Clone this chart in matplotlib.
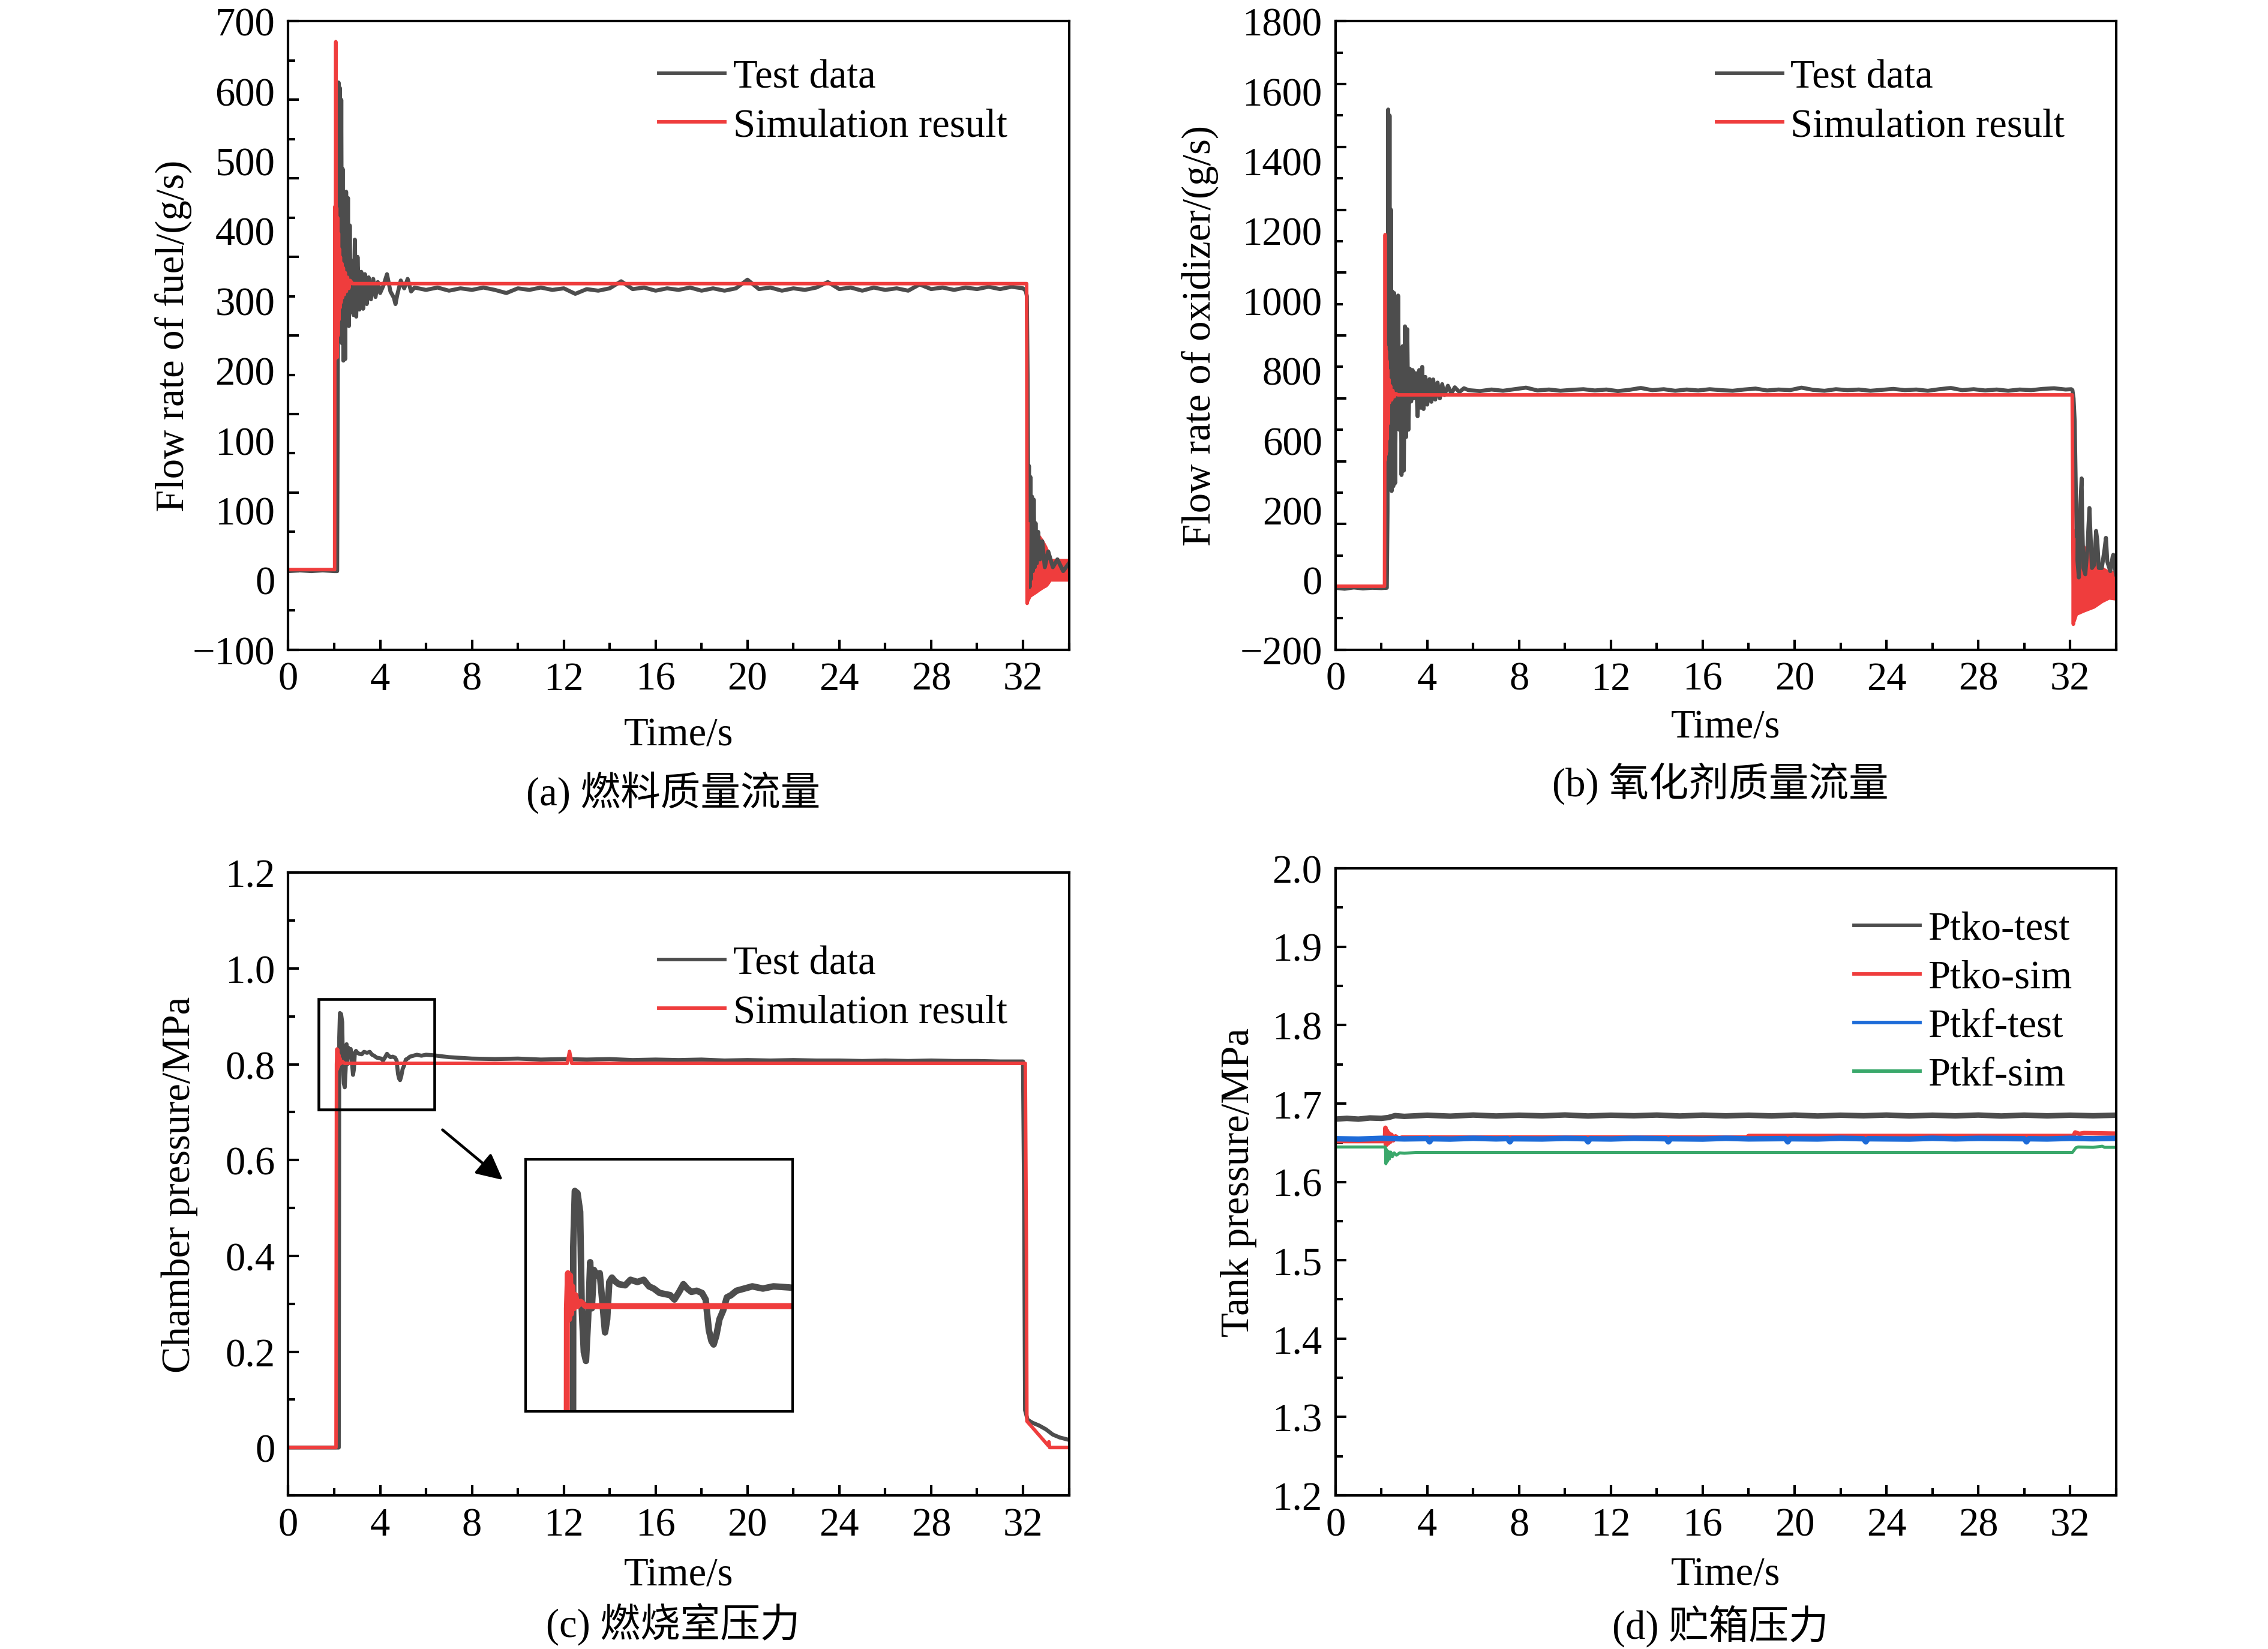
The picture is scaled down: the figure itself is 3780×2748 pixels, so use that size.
import numpy as np
import matplotlib
matplotlib.use('Agg')
import matplotlib.pyplot as plt
from matplotlib.ticker import MultipleLocator
from matplotlib.patches import Rectangle

plt.rcParams['font.family'] = ['Liberation Serif', 'Noto Sans CJK SC']
plt.rcParams['font.size'] = 16
plt.rcParams['axes.unicode_minus'] = True

GRAY = '#4d4d4d'
RED = '#ef3d3d'
BLUE = '#1d6bd8'
GREEN = '#3aa86b'

# ---------------- (a) fuel mass flow, (t [s], g/s)
fuel_test = [(0.0, 0), (0.5, 1), (1.0, 0), (1.5, 1), (2.0, 0), (2.13, 0),
             (2.16, 290), (2.19, 622), (2.22, 300), (2.25, 615), (2.28, 320), (2.31, 600),
             (2.34, 290), (2.37, 512), (2.40, 268), (2.44, 420), (2.48, 270), (2.52, 483),
             (2.56, 315), (2.60, 475), (2.64, 312), (2.68, 440), (2.72, 330), (2.78, 395),
             (2.84, 326), (2.90, 422), (2.96, 324), (3.02, 400), (3.10, 333), (3.18, 381),
             (3.26, 334), (3.34, 378), (3.42, 340), (3.50, 374), (3.60, 346), (3.70, 372),
             (3.80, 349), (3.90, 368), (4.00, 354), (4.15, 364), (4.30, 378), (4.45, 356),
             (4.60, 348), (4.67, 340), (4.75, 352), (4.90, 370), (5.05, 360), (5.20, 372),
             (5.35, 356), (5.5, 361), (6.0, 358), (6.5, 361), (7.0, 357), (7.5, 360),
             (8.0, 358), (8.5, 361), (9.0, 358), (9.5, 354), (10.0, 360), (10.5, 358),
             (11.0, 361), (11.5, 358), (12.0, 360), (12.5, 353), (13.0, 359), (13.5, 357),
             (14.0, 360), (14.5, 369), (15.0, 359), (15.5, 361), (16.0, 357), (16.5, 360),
             (17.0, 358), (17.5, 361), (18.0, 357), (18.5, 360), (19.0, 357), (19.5, 360),
             (20.0, 371), (20.5, 359), (21.0, 361), (21.5, 357), (22.0, 360), (22.5, 358),
             (23.0, 361), (23.5, 368), (24.0, 359), (24.5, 361), (25.0, 357), (25.5, 361),
             (26.0, 358), (26.5, 360), (27.0, 357), (27.5, 365), (28.0, 359), (28.5, 361),
             (29.0, 358), (29.5, 361), (30.0, 359), (30.5, 362), (31.0, 359), (31.5, 362),
             (32.0, 360), (32.12, 357), (32.17, 350), (32.20, 250), (32.23, 60), (32.26, 134),
             (32.29, -20), (32.32, 120), (32.35, -10), (32.39, 95), (32.43, 0), (32.47, 91),
             (32.51, 5), (32.55, 61), (32.60, 10), (32.66, 50), (32.74, 15), (32.84, 38),
             (32.95, 5), (33.1, 25), (33.3, 5), (33.5, 15), (33.75, 0), (34.0, 10)]
fuel_sim = [(0.0, 2), (2.02, 2), (2.03, 464), (2.05, 270), (2.07, 674), (2.09, 300),
            (2.11, 462), (2.13, 272), (2.15, 450), (2.17, 300), (2.19, 430), (2.21, 320),
            (2.23, 410), (2.25, 335), (2.27, 400), (2.30, 342), (2.33, 392), (2.36, 348),
            (2.40, 386), (2.44, 352), (2.48, 380), (2.53, 356), (2.58, 374), (2.64, 360),
            (2.70, 370), (2.80, 366), (32.16, 366), (32.18, -41), (32.21, 60)]
# envelope of the fast ringing after shutdown
fuel_ring_t = [32.18, 32.22, 32.35, 32.61, 32.70, 32.91, 33.04, 33.13, 33.22, 33.26, 33.6, 34.0]
fuel_ring_hi = [65, 65, 60, 52, 48, 39, 32, 26, 20, 16, 16, 16]
fuel_ring_lo = [-41, -41, -33, -28, -26, -22, -20, -17, -13, -13, -13, -13]
fuel_ytick_labels = ['\u2212100', '0', '100', '100', '200', '300', '400', '500', '600', '700']

# ---------------- (b) oxidizer mass flow
ox_test = [(0.0, -3), (0.4, -6), (0.8, -2), (1.2, -5), (1.6, -3), (2.0, -4), (2.24, -3),
           (2.27, 240), (2.30, 1519), (2.33, 420), (2.36, 1500), (2.39, 310), (2.42, 1200),
           (2.45, 305), (2.48, 940), (2.52, 320), (2.56, 935), (2.60, 330), (2.64, 700),
           (2.69, 520), (2.73, 927), (2.78, 500), (2.84, 760), (2.88, 356), (2.93, 766),
           (2.98, 370), (3.03, 829), (3.08, 477), (3.13, 820), (3.18, 500), (3.24, 694),
           (3.30, 590), (3.36, 690), (3.42, 600), (3.50, 680), (3.58, 543), (3.65, 690),
           (3.72, 570), (3.78, 700), (3.84, 566), (3.92, 668), (4.00, 580), (4.10, 661),
           (4.18, 589), (4.26, 660), (4.35, 596), (4.45, 650), (4.55, 600), (4.65, 645),
           (4.75, 610), (4.90, 640), (5.05, 615), (5.20, 635), (5.40, 620), (5.60, 632),
           (5.8, 626), (6.3, 623), (6.8, 628), (7.3, 624), (7.8, 629), (8.3, 634), (8.8, 625),
           (9.3, 628), (9.8, 624), (10.3, 627), (10.8, 629), (11.3, 625), (11.8, 628),
           (12.3, 623), (12.8, 627), (13.3, 633), (13.8, 626), (14.3, 629), (14.8, 624),
           (15.3, 628), (15.8, 625), (16.3, 629), (16.8, 626), (17.3, 624), (17.8, 628),
           (18.3, 631), (18.8, 625), (19.3, 628), (19.8, 626), (20.3, 634), (20.8, 627),
           (21.3, 624), (21.8, 629), (22.3, 626), (22.8, 628), (23.3, 624), (23.8, 627),
           (24.3, 630), (24.8, 626), (25.3, 628), (25.8, 624), (26.3, 629), (26.8, 633),
           (27.3, 626), (27.8, 629), (28.3, 625), (28.8, 628), (29.3, 624), (29.8, 628),
           (30.3, 626), (30.8, 630), (31.3, 632), (31.8, 628), (32.05, 629), (32.1, 626),
           (32.15, 600), (32.2, 526), (32.25, 300), (32.3, 100), (32.38, 30), (32.44, 250),
           (32.5, 345), (32.53, 200), (32.58, 60), (32.66, 40), (32.75, 120), (32.84, 251),
           (32.88, 180), (32.95, 60), (33.05, 70), (33.13, 178), (33.18, 150), (33.25, 60),
           (33.38, 60), (33.5, 120), (33.56, 156), (33.62, 80), (33.75, 50), (33.85, 95),
           (33.88, 102), (33.95, 60), (34.0, 40)]
ox_sim = [(0.0, 2), (2.14, 2), (2.15, 404), (2.165, 1121), (2.18, 404), (2.19, 766),
          (2.20, 420), (2.215, 750), (2.23, 430), (2.245, 720), (2.26, 470), (2.28, 690),
          (2.30, 520), (2.33, 660), (2.36, 587), (2.40, 640), (2.45, 595), (2.50, 625),
          (2.56, 605), (2.63, 615), (2.72, 611), (32.09, 611), (32.14, -119), (32.16, 150)]
ox_ring_t = [32.14, 32.23, 32.32, 32.6, 33.06, 33.42, 33.7, 34.0]
ox_ring_hi = [188, 180, 160, 134, 96, 64, 52, 52]
ox_ring_lo = [-119, -110, -90, -81, -68, -50, -40, -43]
ox_ytick_labels = ['\u2212200', '0', '200', '600', '800', '1000', '1200', '1400', '1600', '1800']

# ---------------- (c) chamber pressure, MPa
pc_test = [(0.0, 0), (2.20, 0), (2.22, 0.856), (2.25, 0.907), (2.30, 0.905), (2.35, 0.888),
           (2.38, 0.80), (2.42, 0.76), (2.46, 0.752), (2.50, 0.79), (2.54, 0.842), (2.57, 0.80),
           (2.61, 0.835), (2.66, 0.830), (2.72, 0.832), (2.78, 0.800), (2.82, 0.778), (2.86, 0.79),
           (2.90, 0.824), (2.95, 0.828), (3.0, 0.825), (3.08, 0.822), (3.2, 0.821), (3.3, 0.826),
           (3.43, 0.824), (3.55, 0.826), (3.65, 0.820), (3.74, 0.818), (3.85, 0.814), (3.95, 0.813),
           (4.05, 0.812), (4.13, 0.808), (4.22, 0.815), (4.30, 0.822), (4.37, 0.818), (4.45, 0.815),
           (4.55, 0.816), (4.65, 0.814), (4.72, 0.808), (4.78, 0.78), (4.83, 0.77), (4.87, 0.767),
           (4.92, 0.775), (4.98, 0.79), (5.05, 0.798), (5.12, 0.810), (5.2, 0.812), (5.3, 0.816),
           (5.45, 0.818), (5.6, 0.820), (5.8, 0.818), (6.0, 0.820), (6.3, 0.819), (7.0, 0.815),
           (8.0, 0.812), (9.0, 0.811), (10.0, 0.812), (11.0, 0.810), (12.0, 0.811), (13.0, 0.810),
           (14.0, 0.811), (15.0, 0.809), (16.0, 0.810), (17.0, 0.809), (18.0, 0.810), (19.0, 0.808),
           (20.0, 0.809), (21.0, 0.808), (22.0, 0.809), (23.0, 0.808), (24.0, 0.808), (25.0, 0.807),
           (26.0, 0.808), (27.0, 0.807), (28.0, 0.808), (29.0, 0.807), (30.0, 0.807), (31.0, 0.806),
           (32.0, 0.806), (32.05, 0.5), (32.09, 0.078), (32.2, 0.058), (32.4, 0.052), (32.7, 0.046),
           (33.0, 0.038), (33.3, 0.027), (33.6, 0.021), (34.0, 0.016)]
pc_sim = [(0.0, 0), (2.08, 0), (2.10, 0.80), (2.12, 0.832), (2.14, 0.79), (2.16, 0.83),
          (2.18, 0.795), (2.20, 0.82), (2.23, 0.80), (2.26, 0.812), (2.30, 0.802), (2.36, 0.806),
          (2.45, 0.802), (12.15, 0.802), (12.25, 0.827), (12.35, 0.802), (32.10, 0.802),
          (32.15, 0.40), (32.17, 0.055), (33.10, 0.004), (33.13, 0.012), (33.16, 0.0), (34.0, 0.0)]
pc_zoom_x = (1.32, 6.36)
pc_zoom_y = (0.706, 0.936)

# ---------------- (d) tank pressure, MPa
ko_test = [(0, 1.6800), (0.5, 1.6810), (1.0, 1.6800), (1.5, 1.6815), (2.0, 1.6810), (2.3, 1.6820),
           (2.6, 1.6845), (3, 1.6835), (4, 1.6850), (5, 1.6838), (6, 1.6852), (7, 1.6840),
           (8, 1.6850), (9, 1.6842), (10, 1.6853), (11, 1.6840), (12, 1.6850), (13, 1.6843),
           (14, 1.6852), (15, 1.6840), (16, 1.6851), (17, 1.6842), (18, 1.6850), (19, 1.6841),
           (20, 1.6852), (21, 1.6840), (22, 1.6850), (23, 1.6843), (24, 1.6852), (25, 1.6841),
           (26, 1.6850), (27, 1.6842), (28, 1.6852), (29, 1.6840), (30, 1.6851), (31, 1.6842),
           (32, 1.6850), (33, 1.6843), (34, 1.6850)]
ko_sim = [(0, 1.652), (2.15, 1.652), (2.18, 1.669), (2.21, 1.647), (2.25, 1.665), (2.29, 1.649),
          (2.33, 1.662), (2.38, 1.651), (2.44, 1.660), (2.52, 1.653), (2.62, 1.658), (2.75, 1.655),
          (2.9, 1.6565), (17.9, 1.6565), (18.0, 1.6585), (32.15, 1.6585), (32.22, 1.663),
          (32.4, 1.6612), (32.6, 1.6622), (34.0, 1.6615)]
kf_test = [(0, 1.6550), (1, 1.6545), (2, 1.6555), (3, 1.6548), (4.0, 1.6552), (4.1, 1.6510),
           (4.2, 1.6550), (5, 1.6546), (6, 1.6556), (7, 1.6548), (7.5, 1.6552), (7.6, 1.6510),
           (7.7, 1.6550), (9, 1.6547), (10, 1.6555), (10.9, 1.6550), (11.0, 1.6510), (11.1, 1.6550),
           (12, 1.6547), (13, 1.6556), (14.4, 1.6550), (14.5, 1.6510), (14.6, 1.6550), (16, 1.6546),
           (17, 1.6556), (18, 1.6548), (19.6, 1.6552), (19.7, 1.6510), (19.8, 1.6550), (21, 1.6547),
           (22, 1.6556), (23.0, 1.6550), (23.1, 1.6510), (23.2, 1.6550), (25, 1.6546), (26, 1.6556),
           (27, 1.6548), (28, 1.6555), (30.0, 1.6550), (30.1, 1.6510), (30.2, 1.6550), (31, 1.6547),
           (32, 1.6555), (33, 1.6550), (34, 1.6555)]
kf_sim = [(0, 1.6445), (2.18, 1.6445), (2.20, 1.623), (2.23, 1.641), (2.26, 1.626), (2.30, 1.639),
          (2.35, 1.629), (2.41, 1.638), (2.48, 1.632), (2.56, 1.637), (2.66, 1.634), (2.80, 1.637),
          (3.0, 1.6365), (3.5, 1.6375), (32.1, 1.6375), (32.25, 1.6435), (32.35, 1.6445),
          (33.0, 1.6440), (33.4, 1.6455), (33.5, 1.6440), (34.0, 1.6440)]


def xy(pairs):
    a = np.array(pairs, dtype=float)
    return a[:, 0], a[:, 1]


def style(ax, ymaj, ymin, ylim):
    ax.set_xlim(0, 34)
    ax.set_ylim(*ylim)
    ax.xaxis.set_major_locator(MultipleLocator(4))
    ax.xaxis.set_minor_locator(MultipleLocator(2))
    ax.yaxis.set_major_locator(MultipleLocator(ymaj))
    ax.yaxis.set_minor_locator(MultipleLocator(ymin))
    ax.tick_params(which='both', direction='in', top=False, right=False, width=1.0)
    ax.tick_params(which='major', length=4.2)
    ax.tick_params(which='minor', length=2.8)
    ax.tick_params(axis='x', pad=4.6, labelsize=16)
    ax.tick_params(axis='y', pad=5.3, labelsize=16)
    for s in ax.spines.values():
        s.set_linewidth(1.0)


def fake_ylabels(ax, labels):
    # tick labels of the source sit evenly spaced, independent of the real ticks
    ax.tick_params(axis='y', labelleft=False)
    lo, hi = ax.get_ylim()
    sec = ax.secondary_yaxis('left')
    sec.set_yticks(np.linspace(lo, hi, len(labels)), labels)
    sec.tick_params(axis='y', length=0, pad=5.3, labelsize=16)
    sec.spines['left'].set_visible(False)


def texts(ax, ylabel, ylab_x, xlab_y, caption, cap_y):
    ax.set_ylabel(ylabel, fontsize=16)
    ax.yaxis.set_label_coords(ylab_x, 0.5)
    ax.yaxis.label.set_va('center')
    ax.set_xlabel('Time/s', fontsize=16)
    ax.xaxis.set_label_coords(0.5, xlab_y)
    ax.xaxis.label.set_va('center')
    ax.text(0.493, cap_y, caption, transform=ax.transAxes, ha='center', va='center', fontsize=16)


def legend(ax, x, y):
    leg = ax.legend(loc='upper left', bbox_to_anchor=(x, y), frameon=False, fontsize=16,
                    borderpad=0, borderaxespad=0, handlelength=1.65, handletextpad=0.2,
                    labelspacing=0.30)
    for h in leg.get_lines():
        h.set_linewidth(1.4)


fig = plt.figure(figsize=(12.6, 9.163), dpi=300)
ax_a = fig.add_axes([0.1271, 0.6058, 0.3442, 0.3810])
ax_b = fig.add_axes([0.5888, 0.6058, 0.3442, 0.3810])
ax_c = fig.add_axes([0.1271, 0.0931, 0.3442, 0.3775])
ax_d = fig.add_axes([0.5888, 0.0931, 0.3442, 0.3802])

# (a)
t, v = xy(fuel_test)
ax_a.plot(t, v, color=GRAY, lw=1.6, label='Test data')
t, v = xy(fuel_sim)
ax_a.plot(t, v, color=RED, lw=1.4, label='Simulation result')
ax_a.fill_between(fuel_ring_t, fuel_ring_lo, fuel_ring_hi, color=RED, lw=0)
style(ax_a, 100, 50, (-100, 700))
fake_ylabels(ax_a, fuel_ytick_labels)
texts(ax_a, 'Flow rate of fuel/(g/s)', -0.147, -0.136, '(a) 燃料质量流量', -0.226)
legend(ax_a, 0.475, 0.94)

# (b)
t, v = xy(ox_test)
ax_b.plot(t, v, color=GRAY, lw=1.6, label='Test data')
t, v = xy(ox_sim)
ax_b.plot(t, v, color=RED, lw=1.4, label='Simulation result')
ax_b.fill_between(ox_ring_t, ox_ring_lo, ox_ring_hi, color=RED, lw=0)
style(ax_b, 200, 100, (-200, 1800))
fake_ylabels(ax_b, ox_ytick_labels)
texts(ax_b, 'Flow rate of oxidizer/(g/s)', -0.174, -0.124, '(b) 氧化剂质量流量', -0.212)
legend(ax_b, 0.488, 0.94)

# (c)
t_ct, v_ct = xy(pc_test)
t_cs, v_cs = xy(pc_sim)
ax_c.plot(t_ct, v_ct, color=GRAY, lw=1.6, label='Test data')
ax_c.plot(t_cs, v_cs, color=RED, lw=1.4, label='Simulation result')
style(ax_c, 0.2, 0.1, (-0.1, 1.2))
ax_c.set_yticks([0, 0.2, 0.4, 0.6, 0.8, 1.0, 1.2], ['0', '0.2', '0.4', '0.6', '0.8', '1.0', '1.2'])
texts(ax_c, 'Chamber pressure/MPa', -0.139, -0.128, '(c) 燃烧室压力', -0.207)
legend(ax_c, 0.475, 0.883)
ax_c.add_patch(Rectangle((pc_zoom_x[0], pc_zoom_y[0]), pc_zoom_x[1] - pc_zoom_x[0],
                         pc_zoom_y[1] - pc_zoom_y[0], fill=False, ec='black', lw=1.1, zorder=4))
ax_c.annotate('', xy=(9.51, 0.552), xytext=(6.55, 0.670),
              arrowprops=dict(arrowstyle='-|>', color='black', lw=1.1, mutation_scale=22))
ins = ax_c.inset_axes([0.304, 0.135, 0.342, 0.405])
ins.plot(t_ct, v_ct, color=GRAY, lw=2.6)
ins.plot(t_cs, v_cs, color=RED, lw=2.4)
ins.set_xlim(*pc_zoom_x)
ins.set_ylim(*pc_zoom_y)
ins.set_xticks([])
ins.set_yticks([])
for s in ins.spines.values():
    s.set_linewidth(1.0)

# (d)
for pairs, col, lw, lab in [(ko_test, GRAY, 2.2, 'Ptko-test'), (ko_sim, RED, 1.8, 'Ptko-sim'),
                            (kf_test, BLUE, 2.2, 'Ptkf-test'), (kf_sim, GREEN, 1.2, 'Ptkf-sim')]:
    t, v = xy(pairs)
    ax_d.plot(t, v, color=col, lw=lw, label=lab)
style(ax_d, 0.1, 0.05, (1.2, 2.0))
ax_d.set_yticks(np.arange(1.2, 2.01, 0.1), [f'{x:.1f}' for x in np.arange(1.2, 2.01, 0.1)])
texts(ax_d, 'Tank pressure/MPa', -0.124, -0.126, '(d) 贮箱压力', -0.207)
legend(ax_d, 0.664, 0.932)

fig.savefig('out.png', dpi=300)
